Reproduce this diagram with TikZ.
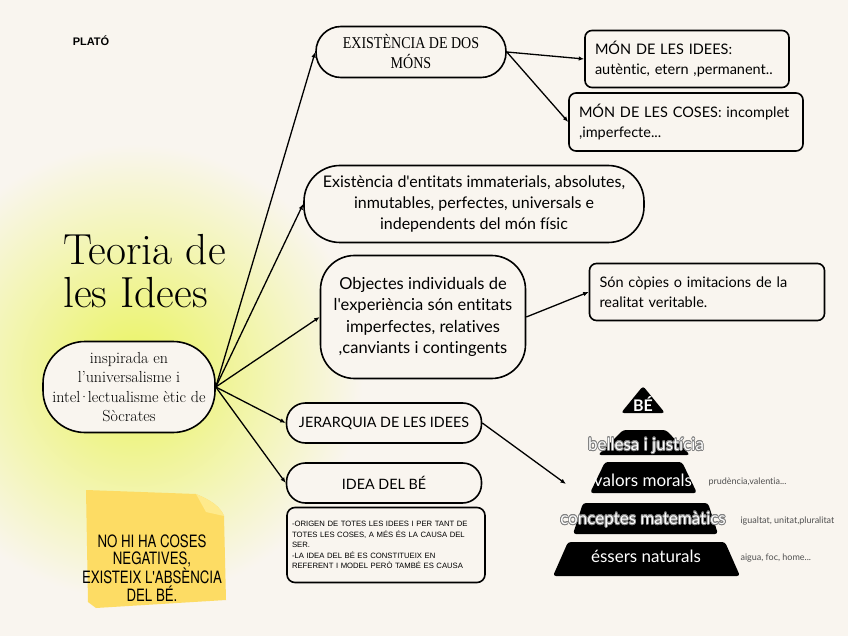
\documentclass[tikz,border=0pt]{standalone}
\usepackage{fontspec}
\usepackage{xcolor}
\usepackage{contour}
\newfontfamily\latofont[Ligatures=NoCommon]{Lato}
\newfontfamily\titlecaps[FakeStretch=0.85]{Liberation Serif}
\newfontfamily\tinysans{Liberation Sans}
\newfontfamily\notefont[FakeStretch=0.78]{TeX Gyre Heros}
\definecolor{plpaper}{RGB}{249,245,239}
\definecolor{plglow}{RGB}{234,244,95}
\definecolor{plnote}{RGB}{253,220,100}
\definecolor{plnotelight}{RGB}{254,234,140}
\definecolor{plgrey}{RGB}{80,80,80}
\usetikzlibrary{arrows.meta, positioning}
\contourlength{0.7pt}
\tikzset{
  bubble/.style={draw,line width=1.6pt,fill=plpaper,inner sep=0pt,align=center},
  leftbox/.style={bubble,rounded corners=7pt,align=left,inner xsep=10pt},
  link/.style={-{Latex[length=5.5pt,width=4.5pt]},line width=1.3pt},
  layer/.style={fill=black,rounded corners=3pt},
  layerlabel/.style={text=white,font=\latofont\fontsize{17}{17}\selectfont},
  sidelabel/.style={text=plgrey,anchor=west,font=\latofont\fontsize{9}{9}\selectfont}
}

\begin{document}
\begin{tikzpicture}[x=1pt,y=-1pt]
  \useasboundingbox (0,0) rectangle (848,636);
  \fill[plpaper] (0,0) rectangle (848,636);
  % glow behind the main bubble
  \shade[inner color=plglow,outer color=plpaper] (135,372) circle (228);

  \node[font=\tinysans\bfseries\fontsize{11}{11}\selectfont] (plato) at (91,41) {PLATÓ};
  \node[anchor=north west,align=left,inner sep=0pt,font=\fontsize{43.5}{43}\selectfont] (titol) at (63,234) {Teoria de\\les Idees};

  \node[bubble,minimum width=172pt,minimum height=91pt,rounded corners=42pt,font=\fontsize{16}{19.5}\selectfont] (socrates) at (129,387)
    {inspirada en\\l'universalisme i\\intel\kern-2pt·\kern-2pt lectualisme ètic de\\Sòcrates};

  \node[bubble,minimum width=190pt,minimum height=51pt,rounded corners=25pt,font=\titlecaps\fontsize{16.5}{20}\selectfont] (dosmons) at (411,52)
    {EXISTÈNCIA DE DOS\\MÓNS};
  \node[bubble,minimum width=340pt,minimum height=77pt,rounded corners=36pt,font=\latofont\fontsize{16}{21}\selectfont] (entitats) at (474,204)
    {Existència d'entitats immaterials, absolutes,\\inmutables, perfectes, universals e\\independents del món físic};
  \node[bubble,minimum width=205pt,minimum height=123pt,rounded corners=34pt,font=\latofont\fontsize{16.5}{21.5}\selectfont] (objectes) at (423,317)
    {Objectes individuals de\\l'experiència són entitats\\imperfectes, relatives\\,canviants i contingents};
  \node[bubble,minimum width=195pt,minimum height=40pt,rounded corners=19pt,font=\latofont\fontsize{14.3}{14}\selectfont] (jerarquia) at (384,423) {JERARQUIA DE LES IDEES};
  \node[bubble,minimum width=195pt,minimum height=40pt,rounded corners=19pt,font=\latofont\fontsize{14.3}{14}\selectfont] (idea) at (384,483) {IDEA DEL BÉ};
  \node[leftbox,text width=188pt,minimum height=75pt,rounded corners=8pt,inner xsep=5pt,font=\tinysans\fontsize{7.7}{10.5}\selectfont] (origen) at (386,545)
    {-ORIGEN DE TOTES LES IDEES I PER TANT DE\\TOTES LES COSES, A MÉS ÉS LA CAUSA DEL\\SER.\\-LA IDEA DEL BÉ ES CONSTITUEIX EN\\REFERENT I MODEL PERÒ TAMBÉ ES CAUSA};

  \node[leftbox,text width=184pt,minimum height=57pt,font=\latofont\fontsize{14.5}{20}\selectfont] (monidees) at (687,59)
    {MÓN DE LES IDEES:\\autèntic, etern ,permanent..};
  \node[leftbox,text width=214pt,minimum height=58pt,font=\latofont\fontsize{14.5}{20}\selectfont] (moncoses) at (686,122)
    {MÓN DE LES COSES: incomplet\\,imperfecte...};
  \node[leftbox,text width=215pt,minimum height=57pt,font=\latofont\fontsize{14.5}{20}\selectfont] (copies) at (707,292)
    {Són còpies o imitacions de la\\realitat veritable.};

  % pyramid
  \fill[layer] (643,386) -- (665,413) -- (621,413) -- cycle;
  \fill[layer] (623,430) -- (666,430) -- (690,455) -- (598,455) -- cycle;
  \fill[layer] (605,462) -- (682,462) -- (697,493) -- (590,493) -- cycle;
  \fill[layer] (583,503) -- (708,503) -- (718,534) -- (573,534) -- cycle;
  \fill[layer] (568,542) -- (725,542) -- (740,576) -- (553,576) -- cycle;
  \node[layerlabel,font=\latofont\bfseries\fontsize{16}{16}\selectfont] (be) at (643,404) {BÉ};
  \node[layerlabel] (bellesa) at (646,446) {\contour{gray}{bellesa i justícia}};
  \node[layerlabel] (valors) at (643,480) {valors morals};
  \node[layerlabel] (conceptes) at (643,520) {\contour{gray}{conceptes matemàtics}};
  \node[layerlabel] (essers) at (646,556) {éssers naturals};
  \node[sidelabel] (prudencia) at (705,482) {prudència,valentia...};
  \node[sidelabel] (igualtat) at (737,521) {igualtat, unitat,pluralitat};
  \node[sidelabel] (aigua) at (737,558) {aigua, foc, home...};
  \coordinate (piramide) at (566,484);

  % sticky note
  \fill[plnote] (86,490) -- (196,494) .. controls (210,500) and (220,506) .. (224,516) -- (226,600) -- (96,608) -- (88,602) -- cycle;
  \fill[plnotelight] (196,494) .. controls (210,500) and (220,506) .. (224,516) -- (206,512) -- cycle;
  \node[align=center,font=\notefont\fontsize{17}{17.5}\selectfont] (nota) at (152,568)
    {NO HI HA COSES\\NEGATIVES,\\EXISTEIX L'ABSÈNCIA\\DEL BÉ.};

  % connectors
  \draw[link] (socrates.east) -- (dosmons.west);
  \draw[link] (socrates.east) -- (entitats.west);
  \draw[link] (socrates.east) -- (objectes.west);
  \draw[link] (socrates.east) -- (jerarquia.west);
  \draw[link] (socrates.east) -- (idea.west);
  \draw[link] (dosmons.east) -- (monidees.west);
  \draw[link] (dosmons.east) -- (moncoses.west);
  \draw[link] (objectes.east) -- (copies.west);
  \draw[link] (jerarquia.east) -- (piramide);
\end{tikzpicture}
\end{document}
